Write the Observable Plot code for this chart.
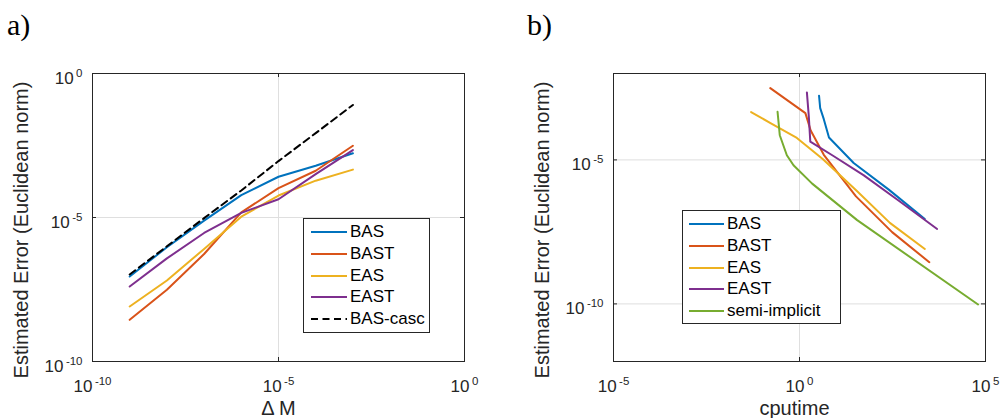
<!DOCTYPE html>
<html><head><meta charset="utf-8">
<script src="https://cdn.jsdelivr.net/npm/d3@7"></script>
<script src="https://cdn.jsdelivr.net/npm/@observablehq/plot@0.6"></script>
<style>
body{margin:0;background:#fff;}
#wrap{position:relative;width:1001px;height:418px;overflow:hidden;font-family:"Liberation Sans",Arial,sans-serif;}
.panel{position:absolute;top:0;}
.plabel{position:absolute;font-family:"Liberation Serif",serif;font-size:30px;line-height:1;color:#000;}
.legend{position:absolute;border:1px solid #262626;background:#fff;box-sizing:border-box;font-size:17px;color:#000;padding-top:2.5px;}
.legend .row{display:flex;align-items:center;height:21.7px;white-space:nowrap;}
.legend svg{display:block;margin-right:3px;}
</style></head><body><div id="wrap"></div>
<script>
// ---------- data ----------
const seriesNamesA = ["BAS", "BAST", "EAS", "EAST", "BAS-casc"];
const seriesNamesB = ["BAS", "BAST", "EAS", "EAST", "semi-implicit"];
const colors = {"BAS": "#0072BD", "BAST": "#D95319", "EAS": "#EDB120", "EAST": "#7E2F8E", "semi-implicit": "#77AC30", "BAS-casc": "#000000"};

// panel a) : error vs Delta M
const deltaM   = [1e-9, 1e-8, 1e-7, 1e-6, 1e-5, 1e-4, 1e-3];
const errBAS   = [8.9e-8, 9.3e-7, 7.8e-6, 6.0e-5, 2.6e-4, 6.3e-4, 1.7e-3];
const errBAST  = [2.8e-9, 3.1e-8, 5.4e-7, 1.5e-5, 1.05e-4, 4.2e-4, 3.1e-3];
const errEAS   = [8.1e-9, 6.5e-8, 8.1e-7, 1.07e-5, 5.8e-5, 1.9e-4, 4.6e-4];
const errEAST  = [4.0e-8, 3.8e-7, 2.9e-6, 1.45e-5, 4.3e-5, 3.2e-4, 2.2e-3];
const errCasc  = [1.05e-7, 1.0e-6, 9.5e-6, 8.7e-5, 9.1e-4, 8.5e-3, 8.1e-2];

// panel b) : error vs cputime
const cpuBAS   = [2340, 251, 28.6, 6.2, 4.5, 3.6, 3.35];
const cpuBAST  = [3090, 309, 33, 4.5, 2.0, 1.44, 0.164];
const cpuEAS   = [2340, 269, 35.5, 4.2, 0.85, 0.166, 0.050];
const cpuEAST  = [5010, 468, 53.7, 7.6, 1.95, 1.78, 1.58];
const cpuSemi  = [0.257, 0.295, 0.457, 0.69, 2.19, 35.5, 63100];
const errSemi  = [4.7e-4, 7.2e-5, 1.45e-5, 6.5e-6, 1.5e-6, 8.1e-8, 9.5e-11];

const xTicksA = [1e-10, 1e-5, 1e0];
const yTicksA = [1e-10, 1e-5, 1e0];
const xTicksB = [1e-5, 1e0, 1e5];
const yTicksB = [1e-10, 1e-5];
const yLabel = "Estimated Error (Euclidean norm)";

// ---------- helpers ----------
const rows = (name, xs, ys) => xs.map((x, i) => ({name, x, y: ys[i]}));
const axisColor = "#262626";
const gridColor = "#dfdfdf";
const ns = "http://www.w3.org/2000/svg";

function makePanel({width, marginLeft, marginRight, xDomain, yDomain, xTicks, yTicks, data, xLabel, xLabelDx}) {
  const marginTop = 73, marginBottom = 57, height = 418;
  const fw = width - marginLeft - marginRight, fh = height - marginTop - marginBottom;
  const marks = [
    Plot.ruleX(xTicks, {stroke: gridColor}),
    Plot.ruleY(yTicks, {stroke: gridColor}),
    Plot.ruleX(xTicks, {insetTop: fh - 4, stroke: axisColor}),
    Plot.ruleX(xTicks, {insetBottom: fh - 4, stroke: axisColor}),
    Plot.ruleY(yTicks, {insetLeft: fw - 4, stroke: axisColor}),
    Plot.ruleY(yTicks, {insetRight: fw - 4, stroke: axisColor}),
  ];
  for (const s of data) {
    marks.push(Plot.line(s.rows, {x: "x", y: "y", stroke: colors[s.name], strokeWidth: 2,
      strokeDasharray: s.name === "BAS-casc" ? "7,4.5" : null}));
  }
  marks.push(
    Plot.frame({stroke: axisColor}),
    Plot.axisX({ticks: xTicks, tickFormat: d => String(Math.round(Math.log10(d))), tickSize: 0, tickPadding: 18, fontSize: 17, color: axisColor, label: null}),
    Plot.axisY({ticks: yTicks, tickFormat: d => String(Math.round(Math.log10(d))), tickSize: 0, tickPadding: 10, dy: 5, fontSize: 17, color: axisColor, label: null}),
    Plot.text([xLabel], {text: d => d, frameAnchor: "bottom", textAnchor: "middle", lineAnchor: "top", dy: 39, dx: xLabelDx, fontSize: 20, fill: axisColor}),
    Plot.text([yLabel], {text: d => d, frameAnchor: "left", textAnchor: "middle", lineAnchor: "middle", rotate: -90, dx: -71, dy: 12.5, fontSize: 20, fill: axisColor})
  );
  const svg = Plot.plot({
    width, height, marginLeft, marginRight, marginTop, marginBottom,
    style: {fontFamily: "Liberation Sans, Arial, sans-serif", fontSize: "17px", background: "transparent", overflow: "visible"},
    x: {type: "log", domain: xDomain},
    y: {type: "log", domain: yDomain},
    marks
  });
  svg.querySelectorAll('g[aria-label="x-axis tick label"] text, g[aria-label="y-axis tick label"] text').forEach(t => {
    const e = t.textContent;
    t.textContent = "";
    const a = document.createElementNS(ns, "tspan"); a.textContent = "10"; t.appendChild(a);
    const b = document.createElementNS(ns, "tspan");
    b.setAttribute("dx", "2.5"); b.setAttribute("dy", "-7"); b.setAttribute("font-size", "11.5");
    b.textContent = e; t.appendChild(b);
  });
  return svg;
}

function makeLegend(names, {left, top, width, height, padLeft, lineLen}) {
  const div = document.createElement("div");
  div.className = "legend";
  Object.assign(div.style, {left: left + "px", top: top + "px", width: width + "px", height: height + "px", paddingLeft: padLeft + "px"});
  for (const n of names) {
    const row = document.createElement("div"); row.className = "row";
    const dash = n === "BAS-casc" ? ' stroke-dasharray="7,4.5"' : "";
    row.innerHTML = `<svg width="${lineLen}" height="4"><line x1="0" x2="${lineLen}" y1="2" y2="2" stroke="${colors[n]}" stroke-width="2"${dash}/></svg><span>${n}</span>`;
    div.appendChild(row);
  }
  return div;
}

const wrap = document.getElementById("wrap");

const svgA = makePanel({
  width: 500, marginLeft: 92, marginRight: 36,
  xDomain: [1e-10, 1e0], yDomain: [1e-10, 1e0], xTicks: xTicksA, yTicks: yTicksA,
  data: [
    {name: "BAS", rows: rows("BAS", deltaM, errBAS)},
    {name: "BAST", rows: rows("BAST", deltaM, errBAST)},
    {name: "EAS", rows: rows("EAS", deltaM, errEAS)},
    {name: "EAST", rows: rows("EAST", deltaM, errEAST)},
    {name: "BAS-casc", rows: rows("BAS-casc", deltaM, errCasc)}
  ],
  xLabel: "Δ M", xLabelDx: 0
});
svgA.classList.add("panel"); svgA.style.left = "0px";
wrap.appendChild(svgA);

const svgB = makePanel({
  width: 501, marginLeft: 113, marginRight: 16,
  xDomain: [1e-5, 1e5], yDomain: [1e-12, 1e-2], xTicks: xTicksB, yTicks: yTicksB,
  data: [
    {name: "BAS", rows: rows("BAS", cpuBAS, errBAS)},
    {name: "BAST", rows: rows("BAST", cpuBAST, errBAST)},
    {name: "EAS", rows: rows("EAS", cpuEAS, errEAS)},
    {name: "EAST", rows: rows("EAST", cpuEAST, errEAST)},
    {name: "semi-implicit", rows: rows("semi-implicit", cpuSemi, errSemi)}
  ],
  xLabel: "cputime", xLabelDx: -5
});
svgB.classList.add("panel"); svgB.style.left = "500px";
wrap.appendChild(svgB);

wrap.appendChild(makeLegend(seriesNamesA, {left: 303, top: 218, width: 127, height: 115, padLeft: 7, lineLen: 36}));
wrap.appendChild(makeLegend(seriesNamesB, {left: 682, top: 210, width: 159, height: 114, padLeft: 6, lineLen: 35}));

for (const [txt, left] of [["a)", 7], ["b)", 527]]) {
  const d = document.createElement("div");
  d.className = "plabel"; d.textContent = txt;
  d.style.left = left + "px"; d.style.top = "10px";
  wrap.appendChild(d);
}
</script></body></html>
